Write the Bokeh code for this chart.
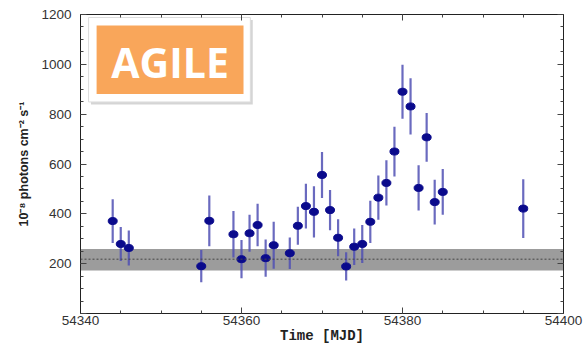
from bokeh.plotting import figure
from bokeh.models import (LinearAxis, SingleIntervalTicker, Range1d, Span, ColumnDataSource,
                          CustomJSTickFormatter)
from bokeh.core.properties import value
from bokeh.embed import file_html
from bokeh.resources import INLINE

# ---- data (MJD, flux in 1e-8 ph cm^-2 s^-1, 1-sigma error) ----
mjd = [54344, 54345, 54346, 54355, 54356, 54359, 54360, 54361, 54362, 54363,
       54364, 54366, 54367, 54368, 54369, 54370, 54371, 54372, 54373, 54374,
       54375, 54376, 54377, 54378, 54379, 54380, 54381, 54382, 54383, 54384,
       54385, 54395]
flux = [371, 279, 263, 190, 372, 318, 218, 322, 355, 222,
        274, 242, 352, 431, 408, 556, 415, 304, 189, 268,
        279, 368, 465, 524, 650, 890, 831, 504, 707, 447,
        488, 421]
err = [88, 68, 70, 65, 102, 93, 77, 74, 85, 75,
       94, 63, 76, 90, 103, 92, 81, 74, 57, 73,
       76, 85, 89, 91, 100, 108, 113, 91, 98, 90,
       92, 118]

mean_flux = [218]
band_low = [173]
band_high = [259]

x_range = (54340, 54400)
y_range = (0, 1200)
badge_text = ["AGILE"]

lo = [f - e for f, e in zip(flux, err)]
hi = [f + e for f, e in zip(flux, err)]
src = ColumnDataSource(dict(x=mjd, y=flux, lo=lo, hi=hi))

p = figure(width=586, height=346, output_backend="svg", toolbar_location=None,
           x_range=Range1d(*x_range), y_range=Range1d(*y_range),
           x_axis_location=None, y_axis_location=None,
           min_border_left=80, min_border_right=23, min_border_top=14, min_border_bottom=32)
p.grid.visible = False
p.background_fill_color = "white"
p.border_fill_color = "white"
p.outline_line_color = "#222222"
p.outline_line_width = 1

def style_axis(ax, labels=True):
    ax.major_tick_in = 6
    ax.major_tick_out = 0
    ax.minor_tick_in = 3
    ax.minor_tick_out = 0
    ax.axis_line_color = "#222222"
    ax.major_tick_line_color = "#444444"
    ax.minor_tick_line_color = "#444444"
    ax.major_label_text_font = "Liberation Sans"
    ax.major_label_text_font_size = "13.5px"
    ax.major_label_text_color = "#333333"
    if not labels:
        ax.formatter = CustomJSTickFormatter(code="return '';")
        ax.major_label_standoff = 0

xb = LinearAxis(ticker=SingleIntervalTicker(interval=20, num_minor_ticks=4))
style_axis(xb)
xb.major_label_standoff = 2
xb.axis_label = "Time [MJD]"
xb.axis_label_text_font = "Liberation Mono"
xb.axis_label_text_font_style = "bold"
xb.axis_label_text_font_size = "14px"
xb.axis_label_text_color = "#222222"
xb.axis_label_standoff = 0
p.add_layout(xb, "below")

yl = LinearAxis(ticker=SingleIntervalTicker(interval=200, num_minor_ticks=4))
style_axis(yl)
yl.major_label_overrides = {0: ""}
yl.major_label_standoff = 9
yl.axis_label = "10\u207b\u2078 photons cm\u207b\u00b2 s\u207b\u00b9"
yl.axis_label_text_font = "Liberation Sans"
yl.axis_label_text_font_style = "bold"
yl.axis_label_text_font_size = "12.5px"
yl.axis_label_text_color = "#222222"
yl.axis_label_standoff = 7
p.add_layout(yl, "left")

xt = LinearAxis(ticker=SingleIntervalTicker(interval=20, num_minor_ticks=4))
style_axis(xt, labels=False)
p.add_layout(xt, "above")
yr = LinearAxis(ticker=SingleIntervalTicker(interval=200, num_minor_ticks=4))
style_axis(yr, labels=False)
p.add_layout(yr, "right")

# background band and mean level
p.quad(left=[x_range[0]], right=[x_range[1]], bottom=band_low, top=band_high,
       fill_color="#9c9c9c", line_color=None)
p.add_layout(Span(location=mean_flux[0], dimension="width", line_color="#444444",
                  line_dash="2 2", line_width=1))

# error bars and points
p.segment(x0="x", y0="lo", x1="x", y1="hi", source=src,
          line_color="#5050b4", line_alpha=0.85, line_width=2.2)
p.ellipse(x="x", y="y", width=9, height=7, width_units="screen", height_units="screen",
          source=src, fill_color="#0a0a8c", line_color="#0a0a8c")

# AGILE badge (decoration)
bx0, bx1, by0, by1 = 54341.0, 54361.1, 849, 1188
ix0, ix1, iy0, iy1 = 54342.0, 54360.25, 881, 1156
p.quad(left=[bx0 + 0.3], right=[bx1 + 0.3], bottom=[by0 - 10], top=[by1 - 10],
       fill_color="#888888", fill_alpha=0.35, line_color=None)
p.quad(left=[bx0], right=[bx1], bottom=[by0], top=[by1],
       fill_color="white", line_color="#dddddd", line_width=1)
p.quad(left=[ix0], right=[ix1], bottom=[iy0], top=[iy1],
       fill_color="#F9A65A", line_color=None)
p.text(x=[(ix0 + ix1) / 2], y=[(iy0 + iy1) / 2 - 10], text=badge_text,
       text_font=value("Open Sans"), text_font_style="bold", text_font_size="41px",
       text_color="white", text_align="center", text_baseline="middle")

open("out.html", "w").write(file_html(p, INLINE))
